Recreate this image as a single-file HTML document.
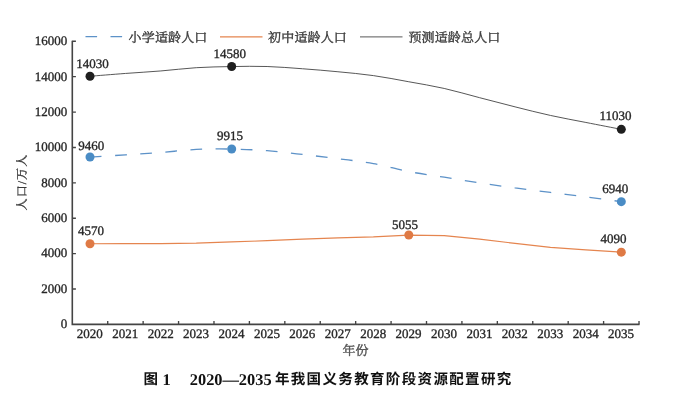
<!DOCTYPE html>
<html lang="zh"><head><meta charset="utf-8"><title>图 1</title>
<style>
html,body{margin:0;padding:0;background:#fff;}
body{width:696px;height:400px;overflow:hidden;}
svg{display:block;filter:blur(0.35px);}
text{font-family:"Liberation Serif","Noto Serif CJK SC",serif;fill:#262626;stroke:#262626;stroke-width:0.33px;paint-order:stroke;text-rendering:geometricPrecision;}
.n{font-size:13px;}
.c{font-family:"Liberation Serif","Noto Serif CJK SC",serif;font-size:13px;fill:#3a3a3a;}
.cap{font-family:"Liberation Serif","Noto Sans CJK SC",sans-serif;font-weight:bold;fill:#111;stroke:none;}
</style></head><body>
<svg width="696" height="400" viewBox="0 0 696 400">
<rect width="696" height="400" fill="#fff"/>

<g stroke="#444" fill="none">
<path d="M72.3,40.68 V324.4 H639.52" stroke-width="1.6"/>
<path d="M72.3,289.01 h3.6 M72.3,253.62 h3.6 M72.3,218.23 h3.6 M72.3,182.84 h3.6 M72.3,147.45 h3.6 M72.3,112.06 h3.6 M72.3,76.67 h3.6 M72.3,41.28 h3.6 M107.72,324.4 v-3.4 M143.14,324.4 v-3.4 M178.56,324.4 v-3.4 M213.98,324.4 v-3.4 M249.40,324.4 v-3.4 M284.82,324.4 v-3.4 M320.24,324.4 v-3.4 M355.66,324.4 v-3.4 M391.08,324.4 v-3.4 M426.50,324.4 v-3.4 M461.92,324.4 v-3.4 M497.34,324.4 v-3.4 M532.76,324.4 v-3.4 M568.18,324.4 v-3.4 M603.60,324.4 v-3.4 M639.02,324.4 v-3.4 " stroke-width="1.35"/>
</g>
<text class="n" x="67.2" y="328.25" text-anchor="end">0</text>
<text class="n" x="67.2" y="292.86" text-anchor="end">2000</text>
<text class="n" x="67.2" y="257.47" text-anchor="end">4000</text>
<text class="n" x="67.2" y="222.08" text-anchor="end">6000</text>
<text class="n" x="67.2" y="186.69" text-anchor="end">8000</text>
<text class="n" x="67.2" y="151.30" text-anchor="end">10000</text>
<text class="n" x="67.2" y="115.91" text-anchor="end">12000</text>
<text class="n" x="67.2" y="80.52" text-anchor="end">14000</text>
<text class="n" x="67.2" y="45.13" text-anchor="end">16000</text>
<text class="n" x="89.81" y="338.2" text-anchor="middle">2020</text>
<text class="n" x="125.23" y="338.2" text-anchor="middle">2021</text>
<text class="n" x="160.65" y="338.2" text-anchor="middle">2022</text>
<text class="n" x="196.07" y="338.2" text-anchor="middle">2023</text>
<text class="n" x="231.49" y="338.2" text-anchor="middle">2024</text>
<text class="n" x="266.91" y="338.2" text-anchor="middle">2025</text>
<text class="n" x="302.33" y="338.2" text-anchor="middle">2026</text>
<text class="n" x="337.75" y="338.2" text-anchor="middle">2027</text>
<text class="n" x="373.17" y="338.2" text-anchor="middle">2028</text>
<text class="n" x="408.59" y="338.2" text-anchor="middle">2029</text>
<text class="n" x="444.01" y="338.2" text-anchor="middle">2030</text>
<text class="n" x="479.43" y="338.2" text-anchor="middle">2031</text>
<text class="n" x="514.85" y="338.2" text-anchor="middle">2032</text>
<text class="n" x="550.27" y="338.2" text-anchor="middle">2033</text>
<text class="n" x="585.69" y="338.2" text-anchor="middle">2034</text>
<text class="n" x="621.11" y="338.2" text-anchor="middle">2035</text>
<text class="c" x="355.6" y="354.6" text-anchor="middle" style="fill:#555">年份</text>
<text class="c" transform="translate(26,182.1) rotate(-90)" text-anchor="middle" style="font-size:12px;letter-spacing:1.05px">人口/万人</text>
<path d="M90.01,76.25 C95.91,75.78 113.62,74.33 125.43,73.45 C137.24,72.57 149.04,71.91 160.85,70.95 C172.66,69.99 184.46,68.43 196.27,67.70 C208.08,66.97 219.88,66.75 231.69,66.55 C243.50,66.35 255.30,66.13 267.11,66.50 C278.92,66.87 290.72,67.88 302.53,68.75 C314.34,69.62 326.14,70.61 337.95,71.75 C349.76,72.89 361.56,73.93 373.37,75.60 C385.18,77.27 396.98,79.61 408.79,81.75 C420.60,83.89 432.40,85.79 444.21,88.45 C456.02,91.11 467.82,94.63 479.63,97.70 C491.44,100.77 503.24,103.89 515.05,106.85 C526.86,109.81 538.66,112.85 550.47,115.45 C562.28,118.05 574.08,120.13 585.89,122.45 C597.70,124.77 615.41,128.20 621.31,129.35" fill="none" stroke="#444" stroke-width="0.9"/>
<path d="M90.01,157.05 C95.91,156.68 113.62,155.62 125.43,154.85 C137.24,154.08 149.04,153.35 160.85,152.45 C172.66,151.55 184.46,150.02 196.27,149.45 C208.08,148.88 219.88,148.84 231.69,149.05 C243.50,149.26 255.30,149.80 267.11,150.70 C278.92,151.60 290.72,153.12 302.53,154.45 C314.34,155.78 326.14,157.18 337.95,158.70 C349.76,160.22 361.56,161.40 373.37,163.55 C385.18,165.70 396.98,169.32 408.79,171.60 C420.60,173.88 432.40,175.31 444.21,177.20 C456.02,179.09 467.82,181.16 479.63,182.95 C491.44,184.74 503.24,186.37 515.05,187.95 C526.86,189.53 538.66,190.95 550.47,192.45 C562.28,193.95 574.08,195.42 585.89,196.95 C597.70,198.48 615.41,200.87 621.31,201.65" fill="none" stroke="#5d92c8" stroke-width="1.3" stroke-dasharray="11.7 13.47"/>
<path d="M90.01,243.75 L125.43,243.65 L160.85,243.55 L196.27,243.20 L231.69,241.95 L267.11,240.70 L302.53,239.20 L337.95,237.95 L373.37,236.95 L408.79,235.05 L444.21,235.70 L479.63,239.20 L515.05,243.35 L550.47,247.45 L585.89,249.95 L621.31,252.15" fill="none" stroke="#e5854f" stroke-width="1.2" stroke-linejoin="round"/>
<circle cx="90.01" cy="76.25" r="4.5" fill="#1f1f1f"/>
<circle cx="231.69" cy="66.55" r="4.5" fill="#1f1f1f"/>
<circle cx="621.31" cy="129.35" r="4.5" fill="#1f1f1f"/>
<circle cx="90.01" cy="157.05" r="4.5" fill="#4a8cc5"/>
<circle cx="231.69" cy="149.05" r="4.5" fill="#4a8cc5"/>
<circle cx="621.31" cy="201.65" r="4.5" fill="#4a8cc5"/>
<circle cx="90.01" cy="243.75" r="4.5" fill="#df7a45"/>
<circle cx="408.79" cy="235.05" r="4.5" fill="#df7a45"/>
<circle cx="621.31" cy="252.15" r="4.5" fill="#df7a45"/>
<text class="n" x="92.5" y="68.2" text-anchor="middle">14030</text>
<text class="n" x="229.8" y="58.2" text-anchor="middle">14580</text>
<text class="n" x="615.6" y="120" text-anchor="middle">11030</text>
<text class="n" x="91.2" y="149.7" text-anchor="middle">9460</text>
<text class="n" x="229.9" y="139.9" text-anchor="middle">9915</text>
<text class="n" x="615.2" y="193.1" text-anchor="middle">6940</text>
<text class="n" x="91" y="235" text-anchor="middle">4570</text>
<text class="n" x="405" y="228.75" text-anchor="middle">5055</text>
<text class="n" x="613.5" y="243" text-anchor="middle">4090</text>
<path d="M85.5,36.7 H128" fill="none" stroke="#5d92c8" stroke-width="1.3" stroke-dasharray="11.6 13.4"/>
<text class="c" x="128.6" y="41.6" style="letter-spacing:0.15px">小学适龄人口</text>
<path d="M220,36.9 H262.5" fill="none" stroke="#e5854f" stroke-width="1.2"/>
<text class="c" x="268.1" y="41.6" style="letter-spacing:0.15px">初中适龄人口</text>
<path d="M360,36.9 H402.5" fill="none" stroke="#444" stroke-width="0.9"/>
<text class="c" x="408.4" y="41.6" style="letter-spacing:0.15px">预测适龄总人口</text>
<text class="cap" x="143.6" y="384.3" style="font-size:14.5px">图</text>
<text class="cap" x="162.6" y="385" style="font-size:16.4px">1</text>
<text class="cap" x="189.8" y="385" style="font-size:16.4px" textLength="81.8" lengthAdjust="spacing">2020—2035</text>
<text class="cap" x="274.9" y="384.3" style="font-size:14.5px;letter-spacing:1.35px">年我国义务教育阶段资源配置研究</text>
</svg></body></html>
